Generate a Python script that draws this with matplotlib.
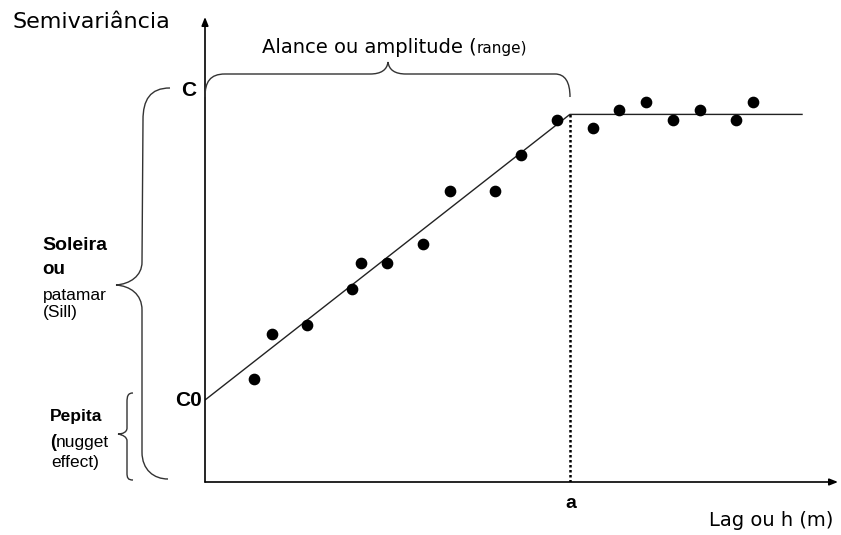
import matplotlib
matplotlib.use("Agg")
import matplotlib.pyplot as plt
from matplotlib.path import Path
from matplotlib.patches import PathPatch
from matplotlib.transforms import Affine2D, IdentityTransform

# ---- data (lag units: range a = 60; semivariance units: sill C = 10) ----
lag = [8.1, 11.0, 16.8, 24.2, 25.6, 29.9, 35.8, 40.3, 47.7, 51.9, 57.9,
       63.8, 68.1, 72.5, 76.9, 81.4, 87.3, 90.1]
semivar = [2.80, 4.03, 4.27, 5.25, 5.96, 5.96, 6.48, 7.92, 7.92, 8.90, 9.85,
           9.63, 10.12, 10.34, 9.85, 10.12, 9.85, 10.34]
nugget = 2.23
sill = 10.0
range_a = 60.0
lag_end = 98.3
x_max = 104.1
y_max = 12.65

W, H = 841, 535
fig = plt.figure(figsize=(W / 100, H / 100), dpi=100)
fig.patch.set_facecolor("white")

# axes origin at pixel (205, 482), top at 17, right at 838
x0, y0, x1, y1 = 205, 482, 838, 17
ax = fig.add_axes([x0 / W, (H - y0) / H, (x1 - x0) / W, (y0 - y1) / H])
ax.set_xlim(0, x_max)
ax.set_ylim(0, y_max)
ax.axis("off")

# model: linear to range, then flat sill
ax.plot([0, range_a, lag_end], [nugget, sill, sill], color="#222222", lw=1.0,
        solid_capstyle="butt", zorder=2)
ax.plot([range_a, range_a], [0, sill], color="black", lw=1.8,
        linestyle=(0, (1, 1)), zorder=2)
ax.plot(lag, semivar, "o", color="black", markersize=7.4, zorder=3)

# axes with arrows
ax.annotate("", xy=(0, y_max), xytext=(0, 0), xycoords="data",
            arrowprops=dict(arrowstyle="-|>,head_length=0.5,head_width=0.2",
                            color="black", lw=1.2, shrinkA=0, shrinkB=0),
            annotation_clip=False)
ax.annotate("", xy=(x_max, 0), xytext=(0, 0), xycoords="data",
            arrowprops=dict(arrowstyle="-|>,head_length=0.5,head_width=0.2",
                            color="black", lw=1.2, shrinkA=0, shrinkB=0),
            annotation_clip=False)

# pixel (top-left origin) transform for annotations
T = Affine2D().scale(1, -1).translate(0, H) + IdentityTransform()

def brace(segments):
    verts, codes = [], []
    first = True
    for seg in segments:
        if first:
            verts.append(seg[0]); codes.append(Path.MOVETO); first = False
        if len(seg) == 2:
            verts.append(seg[1]); codes.append(Path.LINETO)
        else:
            verts.extend(seg[1:4]); codes.extend([Path.CURVE4] * 3)
    p = PathPatch(Path(verts, codes), transform=T, fill=False,
                  edgecolor="#333333", lw=1.0)
    fig.add_artist(p)

# top brace (range)
brace([
    [(205, 97), (205, 82), (210, 74), (225, 74)],
    [(225, 74), (370, 74)],
    [(370, 74), (381, 74), (387, 70), (388, 62)],
    [(388, 62), (389, 70), (395, 74), (406, 74)],
    [(406, 74), (555, 74)],
    [(555, 74), (565, 74), (570, 82), (570, 97)],
])
# big left brace (sill)
brace([
    [(170, 88), (150, 88), (143, 100), (143, 120)],
    [(143, 120), (142, 262)],
    [(142, 262), (142, 276), (130, 284), (116, 285)],
    [(116, 285), (130, 286), (142, 294), (142, 310)],
    [(142, 310), (142, 452)],
    [(142, 452), (142, 470), (154, 479), (168, 479)],
])
# small brace (nugget)
brace([
    [(133, 393), (128, 393), (127, 396), (127, 402)],
    [(127, 402), (127, 428)],
    [(127, 428), (127, 432), (123, 434), (118, 434)],
    [(118, 434), (123, 435), (127, 437), (127, 441)],
    [(127, 441), (127, 473)],
    [(127, 473), (127, 478), (128, 480), (133, 480)],
])

def txt(x, y, s, size, family="DejaVu Sans", weight="normal", ha="left",
        va="baseline"):
    fig.text(x / W, 1 - y / H, s, fontsize=size, family=family,
             fontweight=weight, ha=ha, va=va, color="black")

LS = "Liberation Sans"
txt(12, 28, "Semivariância", 16)
txt(262, 53, "Alance ou amplitude (", 14)
txt(477, 53, "range)", 11)
txt(709, 526, "Lag ou h (m)", 14)
txt(189, 90, "C", 15, LS, "bold", ha="center", va="center")
txt(188, 401, "C0", 15, LS, "bold", ha="center", va="center")
txt(571, 503, "a", 14, LS, "bold", ha="center", va="center")
txt(42, 250, "Soleira", 14, LS, "bold")
txt(42, 274, "ou", 13.5, LS, "bold")
txt(43, 300, "patamar", 12.5, LS)
txt(43, 317, "(Sill)", 12.5, LS)
txt(50, 421, "Pepita", 12.5, LS, "bold")
txt(50, 447, "(", 13, LS, "bold")
txt(56, 447, "nugget", 12.5, LS)
txt(51, 467, "effect)", 12.5, LS)

fig.savefig("out.png", dpi=100)
